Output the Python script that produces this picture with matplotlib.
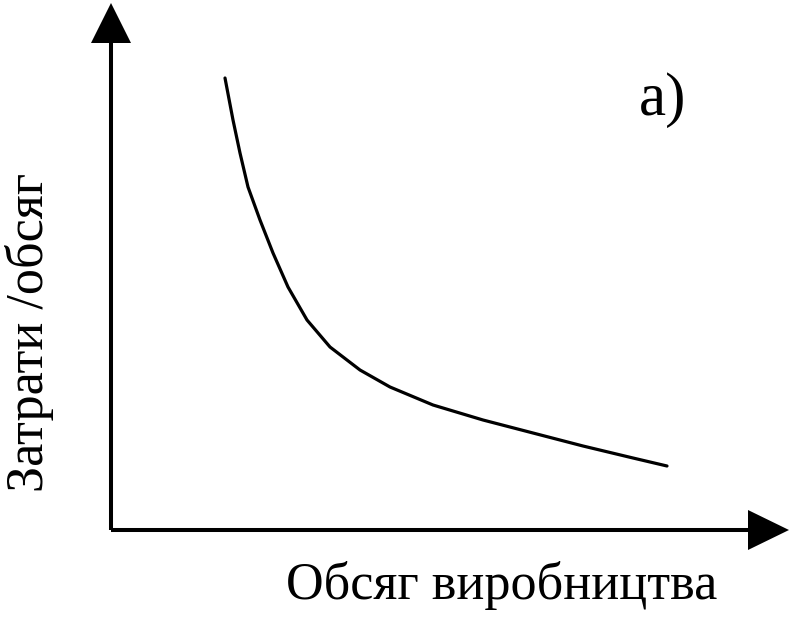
import numpy as np
import matplotlib.pyplot as plt

# curve values (origin at the axes corner)
volume = [114, 122, 129, 137, 149, 162, 177, 196, 219, 249, 279, 322, 372, 422, 472, 522, 556]
cost = [452, 410, 377, 343, 310, 277, 243, 210, 183, 160, 143, 125, 110, 97, 84, 72, 64]

x_label = 'Обсяг виробництва'
y_label = 'Затрати /обсяг'
panel = 'а)'

plt.rcParams['font.family'] = ['Liberation Serif', 'DejaVu Serif']

fig = plt.figure(figsize=(7.97, 6.28), dpi=100)
ax = fig.add_axes([0, 0, 1, 1])
ax.set_xlim(-111, 686)
ax.set_ylim(-98, 530)
ax.axis('off')

# axes with arrow heads
ax.plot([0, 640], [0, 0], color='black', lw=2.9, solid_capstyle='butt')
ax.plot([0, 0], [0, 490], color='black', lw=2.9, solid_capstyle='butt')
ax.fill([637, 678, 637], [-20, 0, 20], color='black', lw=0)
ax.fill([-20, 0, 20], [487, 527, 487], color='black', lw=0)

ax.plot(volume, cost, color='black', lw=2.3, solid_capstyle='round', solid_joinstyle='round')

ax.text(552, 430, panel, fontsize=44, ha='center', va='center')
ax.text(391, -55, x_label, fontsize=37.5, ha='center', va='center')
ax.text(-81, 198, y_label, fontsize=37.5, ha='center', va='center', rotation=90)

fig.savefig('out.png', dpi=100)
